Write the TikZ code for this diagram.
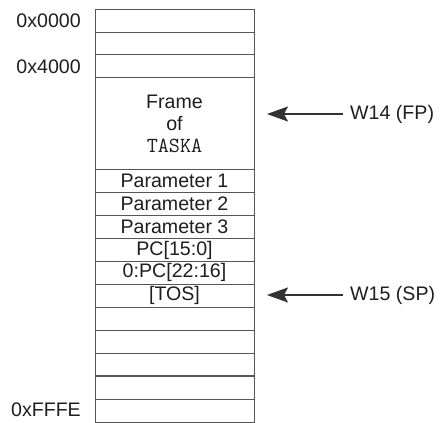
\documentclass[tikz,border=0pt]{standalone}
\usepackage{fontspec}
\setmainfont{Liberation Sans}
\usepackage{xcolor}
\definecolor{stkline}{RGB}{85,85,85}
\definecolor{stktext}{RGB}{30,30,30}
\usetikzlibrary{arrows.meta,positioning}
\newcommand{\stkfont}{\fontsize{19.6}{22}\selectfont}
\newcommand{\taskfont}{\ttfamily\fontsize{21.5}{22}\selectfont}
\tikzset{
  cell/.style={draw=stkline, line width=0.9pt, minimum width=159pt,
               minimum height=22.94pt, inner sep=0pt, outer sep=0pt,
               font=\stkfont, text=stktext},
  framecell/.style={cell, minimum height=91.8pt, align=center},
  addr/.style={anchor=east, inner sep=0pt, font=\stkfont, text=stktext},
  ptrlabel/.style={anchor=west, inner sep=0pt, font=\stkfont, text=stktext},
  ptr/.style={-{Stealth[length=21pt,width=15pt,inset=4pt]},
              line width=2pt, black!80, shorten <=7pt},
}

\begin{document}
\begin{tikzpicture}[x=1pt, y=-1pt]
\useasboundingbox (0,0) rectangle (442,423);

% upper words
\node[cell] (top1) at (174.5,20.5) {};
\node[cell, below=0pt of top1] (top2) {};
\node[cell, below=0pt of top2] (top3) {};

% frame of the task
\node[framecell, below=0pt of top3] (frame) {Frame\\of\\{\taskfont TASKA}};

% pushed words
\node[cell, below=0pt of frame] (par1) {Parameter 1};
\node[cell, below=0pt of par1] (par2) {Parameter 2};
\node[cell, below=0pt of par2] (par3) {Parameter 3};
\node[cell, below=0pt of par3] (pclo) {PC[15:0]};
\node[cell, below=0pt of pclo] (pchi) {0:PC[22:16]};
\node[cell, below=0pt of pchi] (tos) {[TOS]};

% free words
\node[cell, below=0pt of tos] (free1) {};
\node[cell, below=0pt of free1] (free2) {};
\node[cell, below=0pt of free2] (free3) {};
\node[cell, below=0pt of free3] (free4) {};
\node[cell, below=0pt of free4] (free5) {};
\draw[stkline, line width=1.8pt] (free3.south west) -- (free3.south east);

% addresses
\node[addr] (a0000) at (81,20.5) {0x0000};
\node[addr] (a4000) at (81,66.5) {0x4000};
\node[addr] (affff) at (81,410) {0xFFFE};

% pointers
\node[ptrlabel] (fp) at (350,114) {W14 (FP)};
\coordinate (fptip) at (267,114);
\draw[ptr] (fp.west) -- (fptip);

\node[ptrlabel] (sp) at (350,295) {W15 (SP)};
\coordinate (sptip) at (267,295);
\draw[ptr] (sp.west) -- (sptip);

\end{tikzpicture}
\end{document}
